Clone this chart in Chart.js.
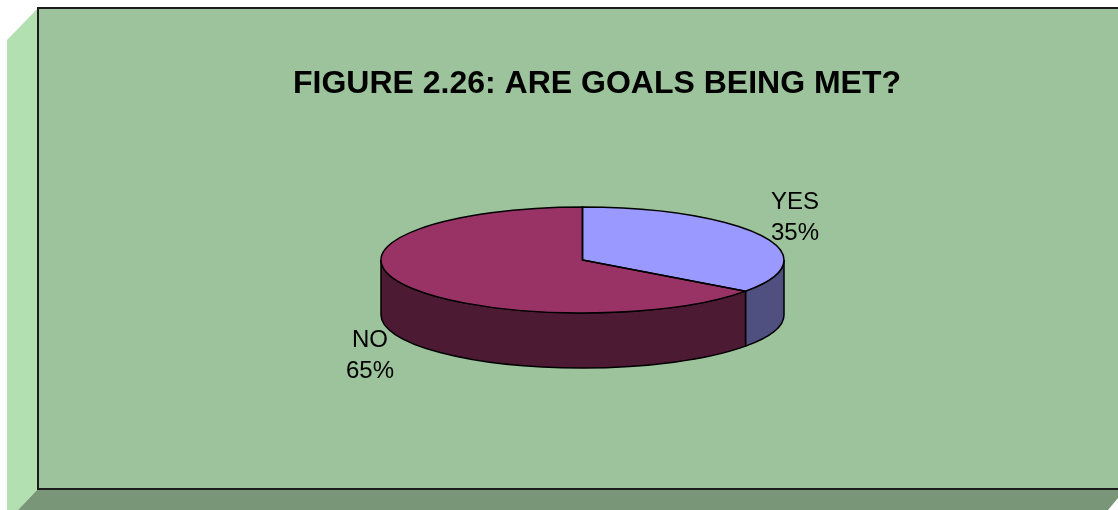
<!DOCTYPE html>
<html>
<head>
<meta charset="utf-8">
<style>
  html, body { margin: 0; padding: 0; background: #ffffff; }
  canvas { display: block; }
</style>
<script src="https://cdn.jsdelivr.net/npm/chart.js@4"></script>
</head>
<body>
<canvas id="goals" width="1118" height="510"></canvas>
<script>
const categories = ['YES', 'NO'];
const shares = [35, 65];
const topColours = ['#9999FF', '#993366'];
const sideColours = ['#4F4F80', '#4D1A33'];
const chartTitle = 'FIGURE 2.26: ARE GOALS BEING MET?';

// Vertical squash of the pie and the height of its rim.
const tilt = 53 / 201.5;
const rimDepth = 55;
// Label offsets from the rim point at each slice's middle angle.
const labelOffsets = [[33, -18.5], [-33, 71.5]];

const font = '"Liberation Sans", Arial, sans-serif';

function ellipseSlicePath(ctx, arc) {
  const ry = arc.outerRadius * tilt;
  ctx.beginPath();
  ctx.moveTo(arc.x, arc.y);
  ctx.ellipse(arc.x, arc.y, arc.outerRadius, ry, 0, arc.startAngle, arc.endAngle);
  ctx.closePath();
}

// Draws the green box: back panel, left wall and floor.
const chartBox = {
  id: 'chartBox',
  beforeDraw(chart) {
    const { ctx } = chart;
    ctx.save();
    ctx.fillStyle = '#B3E0B1';
    ctx.beginPath();
    ctx.moveTo(7, 40); ctx.lineTo(38, 8); ctx.lineTo(38, 489); ctx.lineTo(18, 510); ctx.lineTo(7, 510);
    ctx.closePath(); ctx.fill();
    ctx.fillStyle = '#7A9678';
    ctx.beginPath();
    ctx.moveTo(38, 489); ctx.lineTo(1118, 489); ctx.lineTo(1118, 498); ctx.lineTo(1108, 510); ctx.lineTo(18, 510);
    ctx.closePath(); ctx.fill();
    ctx.fillStyle = '#9CC39B';
    ctx.fillRect(38, 8, 1080, 481);
    ctx.strokeStyle = '#1c1c1c';
    ctx.lineWidth = 2;
    ctx.beginPath();
    ctx.moveTo(1118, 8); ctx.lineTo(38, 8); ctx.lineTo(38, 489); ctx.lineTo(1118, 489);
    ctx.stroke();
    ctx.restore();
  }
};

// Tilts the pie: draws the rim, flattens the slices, then outlines and labels them.
const tiltedPie = {
  id: 'tiltedPie',
  afterLayout(chart) {
    // The title sits inside the pie's square layout area, so give it its own span.
    const block = chart.titleBlock;
    block.top += 45.5; block.bottom += 45.5;
    block.left = 97; block.right = 1097;
  },
  beforeDatasetsDraw(chart) {
    const { ctx } = chart;
    const arcs = chart.getDatasetMeta(0).data;
    ctx.save();
    ctx.lineWidth = 1.5;
    ctx.strokeStyle = '#000000';
    arcs.forEach((arc, i) => {
      const from = Math.max(arc.startAngle, 0);
      const to = Math.min(arc.endAngle, Math.PI);
      if (to <= from) return;
      const ry = arc.outerRadius * tilt;
      ctx.beginPath();
      ctx.ellipse(arc.x, arc.y, arc.outerRadius, ry, 0, from, to);
      ctx.ellipse(arc.x, arc.y + rimDepth, arc.outerRadius, ry, 0, to, from, true);
      ctx.closePath();
      ctx.fillStyle = sideColours[i];
      ctx.fill();
      ctx.stroke();
    });
    ctx.restore();
    const { x, y } = arcs[0];
    ctx.save();
    ctx.translate(x, y);
    ctx.scale(1, tilt);
    ctx.translate(-x, -y);
  },
  afterDatasetsDraw(chart) {
    const { ctx } = chart;
    ctx.restore();
    const arcs = chart.getDatasetMeta(0).data;
    ctx.save();
    ctx.lineWidth = 1.5;
    ctx.strokeStyle = '#000000';
    arcs.forEach(arc => { ellipseSlicePath(ctx, arc); ctx.stroke(); });
    ctx.fillStyle = '#000000';
    ctx.font = '24px ' + font;
    ctx.textAlign = 'center';
    ctx.textBaseline = 'middle';
    const total = shares.reduce((a, b) => a + b, 0);
    arcs.forEach((arc, i) => {
      const mid = (arc.startAngle + arc.endAngle) / 2;
      const px = arc.x + arc.outerRadius * Math.cos(mid) + labelOffsets[i][0];
      const py = arc.y + arc.outerRadius * tilt * Math.sin(mid) + labelOffsets[i][1];
      ctx.fillText(categories[i], px, py - 15.5);
      ctx.fillText(Math.round(shares[i] / total * 100) + '%', px, py + 15.5);
    });
    ctx.restore();
  }
};

new Chart(document.getElementById('goals'), {
  type: 'pie',
  data: {
    labels: categories,
    datasets: [{
      data: shares,
      backgroundColor: topColours,
      borderWidth: 0,
      clip: false
    }]
  },
  options: {
    responsive: false,
    animation: false,
    layout: { padding: { left: 381, right: 334, top: 19.6, bottom: 48 } },
    plugins: {
      legend: { display: false },
      tooltip: { enabled: false },
      title: {
        display: true,
        text: chartTitle,
        color: '#000000',
        padding: 0,
        font: { family: font, size: 32, weight: 'bold', lineHeight: 1.2 }
      }
    }
  },
  plugins: [chartBox, tiltedPie]
});
</script>
</body>
</html>
